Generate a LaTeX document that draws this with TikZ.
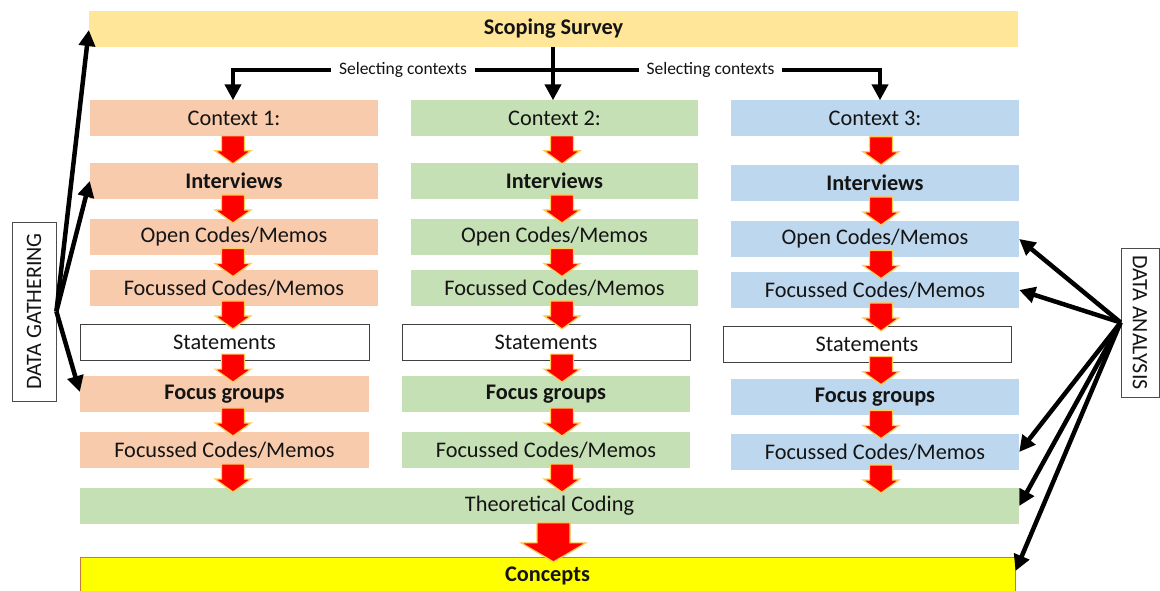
\documentclass[tikz,border=0pt]{standalone}
\usepackage{fontspec}
\setmainfont{Carlito}
\usetikzlibrary{arrows.meta,calc}

\definecolor{survey}{HTML}{FFE699}
\definecolor{peach}{HTML}{F8CBAD}
\definecolor{sage}{HTML}{C5E0B4}
\definecolor{sky}{HTML}{BDD7EE}
\definecolor{concept}{HTML}{FFFF00}
\definecolor{conceptrim}{HTML}{C8783C}
\definecolor{glow}{HTML}{FFCC55}
\definecolor{ink}{HTML}{141414}

\tikzset{
  stage/.style={rectangle, minimum height=36pt, inner sep=0pt,
    font=\fontsize{22.3}{26}\selectfont, text=ink},
  keystage/.style={stage, font=\fontsize{22.3}{26}\selectfont\bfseries},
  plainstage/.style={stage, fill=white, draw=black!75, line width=0.8pt},
  sidebox/.style={rectangle, draw=black!70, line width=0.8pt, inner sep=0pt,
    font=\fontsize{22}{24}\selectfont, text=ink},
  pointer/.style={line width=4.5pt, black, line join=miter,
    -{Triangle[length=16pt,width=16pt]}},
  tag/.style={fill=white, inner xsep=8pt, inner ysep=2pt,
    font=\fontsize{17.5}{20}\selectfont, text=ink},
  pics/redarrow/.style={code={
    \filldraw[fill=red, draw=glow, line width=1.2pt, line join=miter]
      (-11.5,-14) -- (11.5,-14) -- (11.5,1) -- (18,1) -- (0,14)
      -- (-18,1) -- (-11.5,1) -- cycle;}},
  pics/bigarrow/.style={code={
    \filldraw[fill=red, draw=glow, line width=1.2pt, line join=miter]
      (-16.5,-19.5) -- (16.5,-19.5) -- (16.5,0.5) -- (32.5,0.5) -- (0,19.5)
      -- (-32.5,0.5) -- (-16.5,0.5) -- cycle;}},
}

% red step arrow in column #1, between the boxes #2 and #3
\newcommand\stepdown[3]{\pic at ($(#1 |- #2.south)!0.5!(#1 |- #3.north)$) {redarrow};}

\begin{document}
\begin{tikzpicture}[x=1pt,y=-1pt]
\useasboundingbox (0,0) rectangle (1160,591);

% survey
\node[keystage, fill=survey, minimum width=929pt] (ss) at (553.5,29) {Scoping Survey};

% column 1
\node[stage, fill=peach, minimum width=288pt] (c1ctx) at (234,118.5) {Context 1:};
\node[keystage, fill=peach, minimum width=288pt] (c1int) at (234,181) {Interviews};
\node[stage, fill=peach, minimum width=288pt] (c1open) at (234,237) {Open Codes/Memos};
\node[stage, fill=peach, minimum width=288pt] (c1foc) at (234,288) {Focussed Codes/Memos};
\node[plainstage, minimum width=289pt] (c1st) at (224.5,342) {Statements};
\node[keystage, fill=peach, minimum width=289pt] (c1fg) at (224.5,394) {Focus groups};
\node[stage, fill=peach, minimum width=289pt] (c1foc2) at (224.5,450) {Focussed Codes/Memos};

% column 2
\node[stage, fill=sage, minimum width=287pt] (c2ctx) at (554.5,118.5) {Context 2:};
\node[keystage, fill=sage, minimum width=287pt] (c2int) at (554.5,181) {Interviews};
\node[stage, fill=sage, minimum width=287pt] (c2open) at (554.5,237) {Open Codes/Memos};
\node[stage, fill=sage, minimum width=287pt] (c2foc) at (554.5,288) {Focussed Codes/Memos};
\node[plainstage, minimum width=288pt] (c2st) at (546,342) {Statements};
\node[keystage, fill=sage, minimum width=288pt] (c2fg) at (546,394) {Focus groups};
\node[stage, fill=sage, minimum width=288pt] (c2foc2) at (546,450) {Focussed Codes/Memos};

% column 3
\node[stage, fill=sky, minimum width=288pt] (c3ctx) at (875,118.5) {Context 3:};
\node[keystage, fill=sky, minimum width=288pt] (c3int) at (875,183) {Interviews};
\node[stage, fill=sky, minimum width=288pt] (c3open) at (875,239) {Open Codes/Memos};
\node[stage, fill=sky, minimum width=288pt] (c3foc) at (875,290) {Focussed Codes/Memos};
\node[plainstage, minimum width=288pt] (c3st) at (867,344) {Statements};
\node[keystage, fill=sky, minimum width=288pt] (c3fg) at (875,397) {Focus groups};
\node[stage, fill=sky, minimum width=288pt] (c3foc2) at (875,452) {Focussed Codes/Memos};

% synthesis
\node[stage, fill=sage, minimum width=939pt] (tc) at (549.5,506) {Theoretical Coding};
\node[keystage, fill=concept, draw=conceptrim, line width=1pt,
      minimum width=935pt, minimum height=38pt] (cc) at (547.5,576) {Concepts};

% side labels
\node[sidebox, rotate=90, minimum width=179pt, minimum height=44pt] (dg) at (34,311.5) {DATA GATHERING};
\node[sidebox, rotate=-90, minimum width=149pt, minimum height=38pt] (da) at (1140,322.5) {DATA ANALYSIS};

% column axes for the step arrows
\coordinate (k1) at (233,0);
\coordinate (k2) at (562,0);
\coordinate (k3) at (881,0);
\coordinate (kc) at (553.5,0);

\foreach \k in {1,2,3} {
  \stepdown{k\k}{c\k ctx}{c\k int}
  \stepdown{k\k}{c\k int}{c\k open}
  \stepdown{k\k}{c\k open}{c\k foc}
  \stepdown{k\k}{c\k foc}{c\k st}
  \stepdown{k\k}{c\k st}{c\k fg}
  \stepdown{k\k}{c\k fg}{c\k foc2}
  \stepdown{k\k}{c\k foc2}{tc}
}
\pic at ($(kc |- tc.south)!0.5!(kc |- cc.north)+(0,2)$) {bigarrow};

% selecting contexts
\coordinate (sel) at (553,70);
\draw[pointer] (ss.south -| sel) -- (sel |- c2ctx.north);
\draw[pointer] (sel) -| (c1ctx.north -| k1);
\draw[pointer] (sel) -| ([xshift=-1pt]c3ctx.north -| k3);
\node[tag] (sel1) at (403,70) {Selecting contexts};
\node[tag] (sel2) at (710.5,70) {Selecting contexts};

% data gathering links
\draw[pointer] (dg.south) -- ([yshift=-1pt]ss.west);
\draw[pointer] (dg.south) -- (c1int.west);
\draw[pointer] (dg.south) -- ([yshift=2pt]c1fg.west);

% data analysis links
\draw[pointer] (da.south) -- (c3open.east);
\draw[pointer] (da.south) -- (c3foc.east);
\draw[pointer] (da.south) -- (c3foc2.east);
\draw[pointer] (da.south) -- (tc.east);
\draw[pointer] (da.south) -- ([yshift=5pt]cc.east);
\end{tikzpicture}
\end{document}
